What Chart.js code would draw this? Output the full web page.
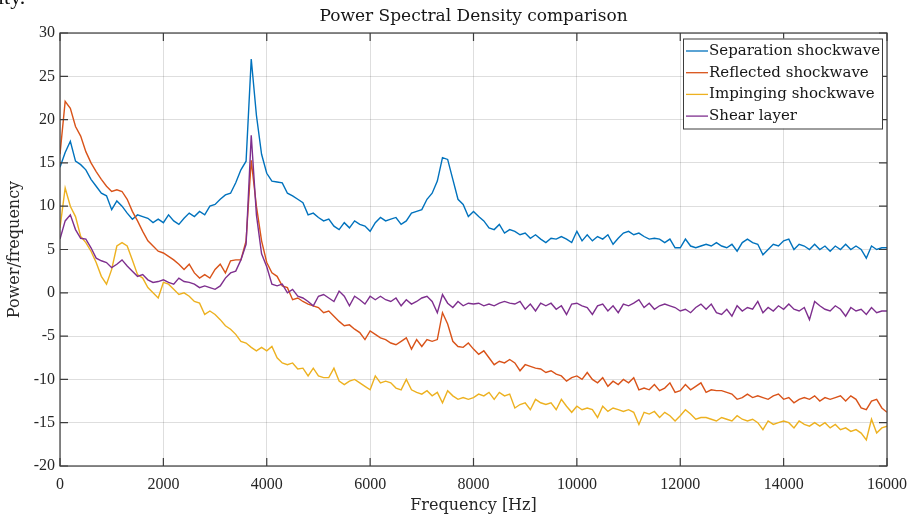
<!DOCTYPE html>
<html>
<head>
<meta charset="utf-8">
<title>Power Spectral Density comparison</title>
<script src="https://cdn.jsdelivr.net/npm/chart.js@4/dist/chart.umd.min.js"></script>
<style>
  html, body { margin: 0; padding: 0; background: #fff; overflow: hidden; }
  #wrap { position: relative; width: 916px; height: 516px; }
  #frag { position: absolute; left: -2px; top: -14px; font: 22px "Liberation Serif", serif; color: #111; line-height: 22px; }
</style>
</head>
<body>
<div id="wrap">
  <canvas id="psd" width="916" height="516"></canvas>
  <div id="frag">ity.</div>
</div>
<script>
// frequency bins, 100 Hz apart, 0 .. 16000 Hz
const freq = Array.from({ length: 161 }, (_, i) => i * 100);

const separation = [
  14.5, 16.2, 17.5, 15.2, 14.8, 14.2, 13.1, 12.3, 11.5, 11.2,
  9.6, 10.6, 10.0, 9.2, 8.5, 9.0, 8.8, 8.6, 8.1, 8.5,
  8.1, 9.0, 8.3, 7.9, 8.6, 9.2, 8.8, 9.4, 9.0, 10.0,
  10.2, 10.8, 11.3, 11.5, 12.7, 14.2, 15.2, 27.0, 20.5, 16.0,
  13.8, 12.9, 12.8, 12.7, 11.5, 11.2, 10.8, 10.4, 9.0, 9.2,
  8.7, 8.3, 8.5, 7.7, 7.3, 8.1, 7.5, 8.3, 7.9, 7.7,
  7.1, 8.1, 8.7, 8.3, 8.5, 8.7, 7.9, 8.3, 9.2, 9.4,
  9.6, 10.8, 11.5, 12.9, 15.6, 15.4, 13.1, 10.8, 10.2, 8.8,
  9.4, 8.8, 8.3, 7.5, 7.3, 7.9, 6.9, 7.3, 7.1, 6.7,
  6.9, 6.3, 6.7, 6.2, 5.8, 6.3, 6.2, 6.5, 6.2, 5.8,
  7.1, 6.0, 6.7, 6.0, 6.5, 6.2, 6.7, 5.6, 6.3, 6.9,
  7.1, 6.7, 6.9, 6.5, 6.2, 6.3, 6.2, 5.8, 6.2, 5.2,
  5.2, 6.2, 5.4, 5.2, 5.4, 5.6, 5.4, 5.8, 5.4, 5.2,
  5.6, 4.8, 5.8, 6.2, 5.8, 5.6, 4.4, 5.0, 5.6, 5.4,
  6.0, 6.2, 5.0, 5.6, 5.4, 5.0, 5.6, 5.0, 5.4, 4.8,
  5.4, 5.0, 5.6, 5.0, 5.4, 5.0, 4.0, 5.4, 5.0, 5.2,
  5.2
];

const reflected = [
  16.0, 22.1, 21.3, 19.2, 18.1, 16.3, 15.0, 14.0, 13.1, 12.3,
  11.7, 11.9, 11.7, 10.8, 9.4, 8.3, 7.1, 6.0, 5.4, 4.8,
  4.6, 4.2, 3.8, 3.3, 2.7, 3.3, 2.3, 1.7, 2.1, 1.7,
  2.7, 3.3, 2.3, 3.7, 3.8, 3.8, 6.0, 15.3, 10.0, 6.0,
  3.5, 2.3, 1.9, 0.8, 0.6, -0.8, -0.6, -1.0, -1.3, -1.5,
  -1.7, -2.3, -2.1, -2.7, -3.3, -3.8, -3.7, -4.2, -4.6, -5.4,
  -4.4, -4.8, -5.2, -5.4, -5.8, -6.0, -5.6, -5.2, -6.5, -5.4,
  -6.2, -5.4, -5.6, -5.4, -2.3, -3.6, -5.6, -6.2, -6.3, -5.8,
  -6.5, -7.1, -6.7, -7.5, -8.3, -7.9, -8.1, -7.7, -8.1, -9.0,
  -8.3, -8.5, -8.7, -8.8, -9.2, -9.0, -9.4, -9.6, -10.2, -9.8,
  -9.6, -10.0, -9.2, -10.0, -10.4, -9.8, -10.8, -10.2, -10.6, -10.0,
  -10.4, -9.8, -11.2, -11.0, -11.2, -10.6, -11.3, -11.0, -10.4, -11.5,
  -11.3, -10.6, -11.2, -10.8, -10.4, -11.5, -11.2, -11.3, -11.3, -11.5,
  -11.7, -12.3, -12.1, -11.7, -12.1, -11.9, -12.1, -12.3, -11.9, -11.7,
  -12.3, -12.1, -12.7, -12.3, -12.1, -12.3, -11.9, -12.5, -12.1, -12.3,
  -12.1, -11.9, -12.5, -11.9, -12.3, -13.3, -13.5, -12.5, -12.3, -13.3,
  -13.8
];

const impinging = [
  7.5, 12.1, 10.0, 8.8, 6.5, 5.8, 4.8, 3.5, 1.9, 1.0,
  2.7, 5.4, 5.8, 5.4, 3.8, 2.1, 1.7, 0.6, 0.0, -0.6,
  1.2, 1.0, 0.4, -0.2, 0.0, -0.4, -1.0, -1.2, -2.5, -2.1,
  -2.5, -3.1, -3.8, -4.2, -4.8, -5.6, -5.8, -6.3, -6.7, -6.3,
  -6.7, -6.2, -7.5, -8.1, -8.3, -8.1, -8.8, -8.7, -9.6, -8.7,
  -9.6, -9.8, -9.8, -8.7, -10.2, -10.6, -10.2, -10.0, -10.4, -10.8,
  -11.2, -9.6, -10.4, -10.2, -10.4, -11.0, -11.2, -10.0, -11.2, -11.5,
  -11.7, -11.3, -11.9, -11.5, -12.7, -11.3, -11.9, -12.3, -12.1, -12.3,
  -12.1, -11.7, -11.9, -11.5, -12.3, -11.5, -11.9, -11.7, -13.3, -12.9,
  -12.7, -13.5, -12.3, -12.7, -12.9, -12.7, -13.5, -12.3, -13.1, -13.8,
  -13.1, -13.5, -13.3, -13.5, -14.4, -13.1, -13.7, -13.3, -13.5, -13.7,
  -13.5, -13.8, -15.2, -13.8, -14.0, -13.7, -14.4, -13.8, -14.2, -14.8,
  -14.2, -13.5, -14.0, -14.6, -14.4, -14.4, -14.6, -14.8, -14.4, -14.6,
  -14.8, -14.2, -14.6, -14.8, -14.6, -15.0, -15.8, -14.8, -15.2, -15.0,
  -14.8, -15.0, -15.6, -14.8, -15.2, -15.4, -15.0, -15.4, -15.0, -15.6,
  -15.2, -15.8, -15.6, -16.0, -15.8, -16.2, -17.0, -14.6, -16.2, -15.6,
  -15.4
];

const shear = [
  6.2, 8.3, 9.0, 7.3, 6.3, 6.2, 5.2, 4.0, 3.7, 3.5,
  2.9, 3.3, 3.8, 3.1, 2.5, 1.9, 2.1, 1.5, 1.2, 1.3,
  1.5, 1.2, 1.0, 1.7, 1.3, 1.2, 1.0, 0.6, 0.8, 0.6,
  0.4, 0.8, 1.7, 2.3, 2.5, 3.8, 5.6, 18.2, 9.0, 4.5,
  3.0, 1.0, 0.8, 1.0, 0.0, 0.4, -0.4, -0.6, -1.0, -1.5,
  -0.4, -0.2, -0.6, -1.0, 0.2, -0.4, -1.5, -0.4, -0.8, -1.3,
  -0.4, -0.8, -0.4, -0.8, -1.0, -0.6, -1.5, -0.8, -1.3, -1.0,
  -0.6, -0.4, -1.0, -2.3, -0.2, -1.2, -1.7, -1.0, -1.5, -1.2,
  -1.3, -1.2, -1.5, -1.3, -1.5, -1.2, -1.0, -1.2, -1.3, -1.0,
  -1.9, -1.3, -2.1, -1.2, -1.5, -1.2, -1.9, -1.5, -2.5, -1.3,
  -1.2, -1.5, -1.7, -2.5, -1.5, -1.3, -2.1, -1.5, -2.3, -1.3,
  -1.5, -1.2, -0.8, -1.7, -1.2, -1.9, -1.5, -1.3, -1.5, -1.7,
  -2.1, -1.9, -2.3, -1.7, -1.3, -1.9, -1.3, -2.3, -2.5, -1.9,
  -2.7, -1.5, -2.1, -1.7, -1.9, -1.0, -2.3, -1.7, -2.1, -1.5,
  -1.9, -1.3, -1.9, -2.1, -1.7, -3.1, -1.0, -1.5, -1.9, -2.1,
  -1.5, -1.9, -2.7, -1.7, -2.1, -1.9, -2.5, -1.7, -2.3, -2.1,
  -2.1
];

const seriesNames = ["Separation shockwave", "Reflected shockwave", "Impinging shockwave", "Shear layer"];
const seriesColors = ["#0072BD", "#D95319", "#EDB120", "#7E2F8E"];
const xTicks = [0, 2000, 4000, 6000, 8000, 10000, 12000, 14000, 16000];
const yTicks = [-20, -15, -10, -5, 0, 5, 10, 15, 20, 25, 30];

const TICKFONT = '"Liberation Serif", serif';
const TEXTFONT = '"DejaVu Serif", "Liberation Serif", serif';
const INK = "#262626";

function toPoints(values) {
  return values.map((v, i) => ({ x: freq[i], y: v }));
}

// title over the middle of the axes, like matlab does
const plotTitle = {
  id: "plotTitle",
  afterDraw(chart) {
    const { ctx, chartArea } = chart;
    ctx.save();
    ctx.font = "17px " + TEXTFONT;
    ctx.fillStyle = "#161616";
    ctx.textAlign = "center";
    ctx.textBaseline = "middle";
    ctx.fillText("Power Spectral Density comparison", (chartArea.left + chartArea.right) / 2, 17);
    ctx.restore();
  }
};

// box round the axes + inward ticks on all four sides
const axesBox = {
  id: "axesBox",
  afterDatasetsDraw(chart) {
    const { ctx, chartArea: a, scales } = chart;
    const len = 8;
    ctx.save();
    ctx.strokeStyle = "#3c3c3c";
    ctx.lineWidth = 1.2;
    ctx.strokeRect(a.left, a.top, a.right - a.left, a.bottom - a.top);
    ctx.beginPath();
    scales.x.ticks.forEach(t => {
      const px = scales.x.getPixelForValue(t.value);
      ctx.moveTo(px, a.bottom); ctx.lineTo(px, a.bottom - len);
      ctx.moveTo(px, a.top); ctx.lineTo(px, a.top + len);
    });
    scales.y.ticks.forEach(t => {
      const py = scales.y.getPixelForValue(t.value);
      ctx.moveTo(a.left, py); ctx.lineTo(a.left + len, py);
      ctx.moveTo(a.right, py); ctx.lineTo(a.right - len, py);
    });
    ctx.stroke();
    ctx.restore();
  }
};

// legend box in the top right corner of the axes
const boxLegend = {
  id: "boxLegend",
  afterDraw(chart) {
    const { ctx, chartArea: a } = chart;
    const w = 199, h = 90, rowH = 21.7;
    const left = a.right - 5 - w, top = a.top + 5.5;
    ctx.save();
    ctx.fillStyle = "#fff";
    ctx.fillRect(left, top, w, h);
    ctx.strokeStyle = "#3c3c3c";
    ctx.lineWidth = 1;
    ctx.strokeRect(left + 0.5, top + 0.5, w, h);
    ctx.font = "15px " + TEXTFONT;
    ctx.textBaseline = "middle";
    chart.data.datasets.forEach((ds, i) => {
      const cy = top + 12.5 + i * rowH;
      ctx.strokeStyle = ds.borderColor;
      ctx.lineWidth = 1.3;
      ctx.beginPath();
      ctx.moveTo(left + 3, cy);
      ctx.lineTo(left + 25, cy);
      ctx.stroke();
      ctx.fillStyle = "#161616";
      ctx.fillText(ds.label, left + 26, cy);
    });
    ctx.restore();
  }
};

document.addEventListener("DOMContentLoaded", function () {
  const ctx = document.getElementById("psd").getContext("2d");
  const allSeries = [separation, reflected, impinging, shear];

  new Chart(ctx, {
    type: "line",
    data: {
      datasets: allSeries.map((vals, i) => ({
        label: seriesNames[i],
        data: toPoints(vals),
        borderColor: seriesColors[i],
        backgroundColor: seriesColors[i],
        borderWidth: 1.4,
        pointRadius: 0,
        tension: 0,
        fill: false,
        order: allSeries.length - i
      }))
    },
    options: {
      responsive: false,
      animation: false,
      devicePixelRatio: 1,
      layout: { padding: { top: 33, right: 26, left: 0, bottom: 0 } },
      plugins: {
        legend: { display: false },
        title: { display: false },
        tooltip: { enabled: false }
      },
      scales: {
        x: {
          type: "linear",
          min: 0,
          max: 16000,
          afterBuildTicks: s => { s.ticks = xTicks.map(v => ({ value: v })); },
          afterFit: s => { s.height = 50; },
          ticks: {
            callback: v => String(v),
            font: { family: TICKFONT, size: 16 },
            color: INK,
            padding: 9,
            maxRotation: 0
          },
          grid: { color: "rgba(0,0,0,0.13)", drawTicks: false, tickLength: 0 },
          border: { display: false },
          title: {
            display: true,
            text: "Frequency [Hz]",
            font: { family: TEXTFONT, size: 16 },
            color: INK,
            padding: { top: 0, bottom: 1 }
          }
        },
        y: {
          type: "linear",
          min: -20,
          max: 30,
          afterBuildTicks: s => { s.ticks = yTicks.map(v => ({ value: v })); },
          afterFit: s => { s.width = 60; },
          ticks: {
            callback: v => String(v),
            font: { family: TICKFONT, size: 16 },
            color: INK,
            padding: 5
          },
          grid: { color: "rgba(0,0,0,0.13)", drawTicks: false, tickLength: 0 },
          border: { display: false },
          title: {
            display: true,
            text: "Power/frequency",
            font: { family: TEXTFONT, size: 16 },
            color: INK,
            padding: { top: 5, bottom: 0 }
          }
        }
      }
    },
    plugins: [axesBox, boxLegend, plotTitle]
  });
});
</script>
</body>
</html>
